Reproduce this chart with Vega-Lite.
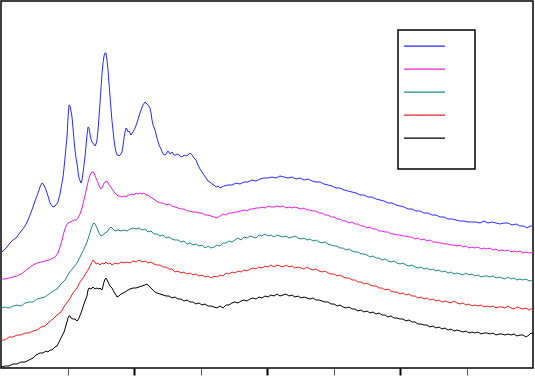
{
"$schema":"https://vega.github.io/schema/vega-lite/v6.json",
"width":532,"height":367,"autosize":"none",
"padding":{"left":1,"top":1,"right":2,"bottom":8},
"background":"white",
"config":{"view":{"stroke":"black","strokeWidth":1.5},"legend":{"strokeWidth":1.5}},
"datasets":{
"a":[{"x":1,"y":115},{"x":4,"y":118},{"x":7,"y":121},{"x":10,"y":125},{"x":13,"y":128},{"x":16,"y":130},{"x":19,"y":134},{"x":22,"y":138},{"x":25,"y":142},{"x":28,"y":148},{"x":30,"y":153},{"x":33,"y":161},{"x":35,"y":167},{"x":38,"y":175},{"x":40,"y":181},{"x":42,"y":185},{"x":44,"y":183},{"x":46,"y":178},{"x":48,"y":172},{"x":50,"y":165},{"x":52,"y":162},{"x":53,"y":161},{"x":55,"y":162},{"x":58,"y":166},{"x":60,"y":174},{"x":62,"y":185},{"x":63,"y":191},{"x":64,"y":200},{"x":65,"y":210},{"x":66,"y":221},{"x":67,"y":231},{"x":68,"y":250},{"x":69,"y":263},{"x":70,"y":262},{"x":71,"y":257},{"x":72,"y":251},{"x":73,"y":240},{"x":74,"y":228},{"x":75,"y":218},{"x":76,"y":210},{"x":77,"y":205},{"x":78,"y":196},{"x":79,"y":190},{"x":81,"y":185},{"x":82,"y":188},{"x":83,"y":195},{"x":84,"y":203},{"x":85,"y":211},{"x":86,"y":222},{"x":87,"y":233},{"x":88,"y":241},{"x":89,"y":240},{"x":90,"y":234},{"x":91,"y":229},{"x":92,"y":226},{"x":93,"y":225},{"x":95,"y":222},{"x":96,"y":224},{"x":97,"y":228},{"x":98,"y":238},{"x":99,"y":251},{"x":100,"y":265},{"x":101,"y":280},{"x":102,"y":294},{"x":103,"y":305},{"x":104,"y":312},{"x":105,"y":315},{"x":106,"y":315},{"x":107,"y":308},{"x":108,"y":298},{"x":109,"y":285},{"x":110,"y":272},{"x":111,"y":259},{"x":112,"y":247},{"x":113,"y":238},{"x":114,"y":228},{"x":115,"y":221},{"x":116,"y":216},{"x":117,"y":213},{"x":118,"y":213},{"x":119,"y":212},{"x":120,"y":213},{"x":121,"y":214},{"x":122,"y":216},{"x":123,"y":222},{"x":124,"y":230},{"x":125,"y":236},{"x":126,"y":240},{"x":127,"y":239},{"x":128,"y":236},{"x":129,"y":237},{"x":130,"y":235},{"x":131,"y":233},{"x":132,"y":235},{"x":133,"y":236},{"x":134,"y":238},{"x":135,"y":240},{"x":137,"y":245},{"x":139,"y":252},{"x":141,"y":258},{"x":143,"y":263},{"x":145,"y":266},{"x":146,"y":265},{"x":147,"y":264},{"x":148,"y":263},{"x":150,"y":260},{"x":151,"y":255},{"x":152,"y":248},{"x":153,"y":243},{"x":155,"y":238},{"x":157,"y":230},{"x":159,"y":223},{"x":161,"y":219},{"x":163,"y":214},{"x":165,"y":213},{"x":166,"y":214},{"x":168,"y":217},{"x":170,"y":214},{"x":172,"y":216},{"x":174,"y":213},{"x":176,"y":213},{"x":178,"y":214},{"x":180,"y":212},{"x":182,"y":211},{"x":184,"y":213},{"x":186,"y":212},{"x":188,"y":213},{"x":190,"y":215},{"x":192,"y":213},{"x":194,"y":210},{"x":196,"y":208},{"x":198,"y":203},{"x":200,"y":199},{"x":202,"y":196},{"x":204,"y":193},{"x":206,"y":190},{"x":208,"y":187},{"x":210,"y":186},{"x":212,"y":184},{"x":214,"y":183},{"x":216,"y":181},{"x":218,"y":182},{"x":220,"y":180},{"x":224,"y":182},{"x":228,"y":183},{"x":232,"y":183},{"x":236,"y":185},{"x":240,"y":184},{"x":244,"y":186},{"x":248,"y":186},{"x":252,"y":188},{"x":256,"y":187},{"x":260,"y":189},{"x":264,"y":190},{"x":268,"y":190},{"x":272,"y":191},{"x":276,"y":190},{"x":280,"y":192},{"x":284,"y":191},{"x":288,"y":190},{"x":292,"y":191},{"x":296,"y":189},{"x":300,"y":190},{"x":304,"y":188},{"x":308,"y":189},{"x":312,"y":187},{"x":316,"y":186},{"x":320,"y":186},{"x":324,"y":184},{"x":328,"y":183},{"x":332,"y":182},{"x":336,"y":180},{"x":340,"y":180},{"x":344,"y":178},{"x":348,"y":177},{"x":352,"y":176},{"x":356,"y":175},{"x":360,"y":173},{"x":364,"y":173},{"x":368,"y":171},{"x":372,"y":171},{"x":376,"y":169},{"x":380,"y":168},{"x":384,"y":167},{"x":388,"y":165},{"x":392,"y":165},{"x":396,"y":163},{"x":400,"y":162},{"x":404,"y":161},{"x":408,"y":159},{"x":412,"y":159},{"x":416,"y":157},{"x":420,"y":157},{"x":424,"y":155},{"x":428,"y":155},{"x":432,"y":153},{"x":436,"y":153},{"x":440,"y":151},{"x":444,"y":151},{"x":448,"y":149},{"x":452,"y":149},{"x":456,"y":148},{"x":460,"y":147},{"x":464,"y":147},{"x":468,"y":146},{"x":472,"y":146},{"x":476,"y":146},{"x":480,"y":145},{"x":484,"y":147},{"x":488,"y":145},{"x":492,"y":146},{"x":496,"y":145},{"x":500,"y":144},{"x":504,"y":145},{"x":508,"y":145},{"x":512,"y":143},{"x":516,"y":144},{"x":520,"y":142},{"x":524,"y":142},{"x":527,"y":140},{"x":530,"y":142},{"x":533,"y":142}],
"b":[{"x":1,"y":89},{"x":5,"y":89},{"x":9,"y":90},{"x":13,"y":91},{"x":17,"y":92},{"x":21,"y":94},{"x":25,"y":97},{"x":29,"y":100},{"x":33,"y":103},{"x":37,"y":105},{"x":41,"y":106},{"x":45,"y":107},{"x":49,"y":108},{"x":53,"y":110},{"x":56,"y":112},{"x":58,"y":115},{"x":60,"y":121},{"x":62,"y":128},{"x":64,"y":136},{"x":66,"y":142},{"x":68,"y":145},{"x":70,"y":146},{"x":72,"y":147},{"x":74,"y":148},{"x":76,"y":148},{"x":78,"y":150},{"x":80,"y":154},{"x":82,"y":160},{"x":84,"y":168},{"x":86,"y":177},{"x":88,"y":186},{"x":90,"y":193},{"x":92,"y":196},{"x":93,"y":196},{"x":94,"y":195},{"x":96,"y":190},{"x":98,"y":185},{"x":100,"y":180},{"x":101,"y":179},{"x":102,"y":180},{"x":104,"y":185},{"x":105,"y":186},{"x":107,"y":187},{"x":108,"y":185},{"x":110,"y":182},{"x":112,"y":179},{"x":114,"y":176},{"x":116,"y":174},{"x":118,"y":172},{"x":120,"y":172},{"x":122,"y":171},{"x":124,"y":172},{"x":126,"y":171},{"x":128,"y":173},{"x":130,"y":173},{"x":132,"y":174},{"x":134,"y":173},{"x":136,"y":175},{"x":138,"y":174},{"x":140,"y":175},{"x":142,"y":174},{"x":144,"y":175},{"x":146,"y":173},{"x":148,"y":173},{"x":150,"y":171},{"x":152,"y":170},{"x":154,"y":169},{"x":156,"y":167},{"x":158,"y":166},{"x":160,"y":165},{"x":163,"y":165},{"x":166,"y":163},{"x":169,"y":164},{"x":172,"y":162},{"x":175,"y":161},{"x":178,"y":160},{"x":181,"y":159},{"x":184,"y":159},{"x":187,"y":157},{"x":190,"y":157},{"x":193,"y":156},{"x":196,"y":156},{"x":199,"y":155},{"x":202,"y":155},{"x":205,"y":153},{"x":208,"y":153},{"x":211,"y":152},{"x":214,"y":151},{"x":217,"y":150},{"x":220,"y":152},{"x":223,"y":154},{"x":226,"y":153},{"x":229,"y":155},{"x":232,"y":155},{"x":235,"y":156},{"x":238,"y":156},{"x":241,"y":157},{"x":244,"y":158},{"x":247,"y":157},{"x":250,"y":159},{"x":253,"y":159},{"x":256,"y":160},{"x":259,"y":160},{"x":262,"y":161},{"x":265,"y":160},{"x":268,"y":162},{"x":271,"y":161},{"x":274,"y":161},{"x":277,"y":162},{"x":280,"y":161},{"x":283,"y":162},{"x":286,"y":160},{"x":289,"y":161},{"x":292,"y":160},{"x":295,"y":161},{"x":298,"y":160},{"x":301,"y":159},{"x":304,"y":160},{"x":307,"y":158},{"x":310,"y":158},{"x":313,"y":157},{"x":316,"y":157},{"x":319,"y":155},{"x":322,"y":155},{"x":325,"y":153},{"x":328,"y":153},{"x":331,"y":151},{"x":334,"y":151},{"x":337,"y":149},{"x":340,"y":149},{"x":343,"y":147},{"x":346,"y":147},{"x":349,"y":145},{"x":352,"y":146},{"x":355,"y":144},{"x":358,"y":144},{"x":361,"y":142},{"x":364,"y":142},{"x":367,"y":140},{"x":370,"y":141},{"x":373,"y":139},{"x":376,"y":139},{"x":379,"y":137},{"x":382,"y":137},{"x":385,"y":136},{"x":388,"y":136},{"x":391,"y":134},{"x":394,"y":134},{"x":397,"y":133},{"x":400,"y":133},{"x":403,"y":132},{"x":406,"y":132},{"x":409,"y":131},{"x":412,"y":131},{"x":415,"y":129},{"x":418,"y":130},{"x":421,"y":128},{"x":424,"y":129},{"x":427,"y":127},{"x":430,"y":128},{"x":433,"y":126},{"x":436,"y":126},{"x":439,"y":125},{"x":442,"y":125},{"x":445,"y":124},{"x":448,"y":124},{"x":451,"y":123},{"x":454,"y":123},{"x":457,"y":122},{"x":460,"y":123},{"x":463,"y":121},{"x":466,"y":122},{"x":469,"y":120},{"x":472,"y":121},{"x":475,"y":120},{"x":478,"y":121},{"x":481,"y":119},{"x":484,"y":120},{"x":487,"y":119},{"x":490,"y":120},{"x":493,"y":118},{"x":496,"y":119},{"x":499,"y":117},{"x":502,"y":118},{"x":505,"y":117},{"x":508,"y":118},{"x":511,"y":116},{"x":514,"y":117},{"x":517,"y":116},{"x":520,"y":117},{"x":523,"y":115},{"x":526,"y":116},{"x":529,"y":115},{"x":533,"y":116}],
"c":[{"x":1,"y":60},{"x":5,"y":61},{"x":9,"y":60},{"x":13,"y":62},{"x":17,"y":63},{"x":21,"y":62},{"x":25,"y":65},{"x":29,"y":66},{"x":33,"y":66},{"x":37,"y":69},{"x":41,"y":70},{"x":45,"y":71},{"x":49,"y":74},{"x":53,"y":77},{"x":57,"y":79},{"x":61,"y":84},{"x":65,"y":88},{"x":69,"y":95},{"x":73,"y":100},{"x":77,"y":105},{"x":81,"y":113},{"x":84,"y":119},{"x":87,"y":126},{"x":89,"y":132},{"x":91,"y":139},{"x":93,"y":144},{"x":94,"y":145},{"x":95,"y":144},{"x":97,"y":140},{"x":99,"y":135},{"x":101,"y":132},{"x":103,"y":133},{"x":105,"y":135},{"x":107,"y":136},{"x":109,"y":139},{"x":111,"y":141},{"x":113,"y":139},{"x":115,"y":137},{"x":118,"y":138},{"x":121,"y":137},{"x":124,"y":138},{"x":127,"y":137},{"x":130,"y":139},{"x":133,"y":140},{"x":136,"y":139},{"x":139,"y":140},{"x":142,"y":138},{"x":145,"y":139},{"x":148,"y":136},{"x":151,"y":137},{"x":154,"y":134},{"x":157,"y":134},{"x":160,"y":132},{"x":163,"y":133},{"x":166,"y":130},{"x":169,"y":131},{"x":172,"y":129},{"x":175,"y":128},{"x":178,"y":128},{"x":181,"y":126},{"x":184,"y":127},{"x":187,"y":124},{"x":190,"y":125},{"x":193,"y":123},{"x":196,"y":124},{"x":199,"y":122},{"x":202,"y":123},{"x":205,"y":120},{"x":208,"y":122},{"x":211,"y":120},{"x":214,"y":121},{"x":217,"y":123},{"x":220,"y":122},{"x":223,"y":125},{"x":226,"y":125},{"x":229,"y":127},{"x":232,"y":126},{"x":235,"y":128},{"x":238,"y":130},{"x":241,"y":128},{"x":244,"y":131},{"x":247,"y":130},{"x":250,"y":132},{"x":253,"y":131},{"x":256,"y":130},{"x":259,"y":133},{"x":262,"y":132},{"x":265,"y":134},{"x":268,"y":132},{"x":271,"y":133},{"x":274,"y":131},{"x":277,"y":133},{"x":280,"y":132},{"x":283,"y":131},{"x":286,"y":132},{"x":289,"y":130},{"x":292,"y":131},{"x":295,"y":132},{"x":298,"y":130},{"x":301,"y":129},{"x":304,"y":130},{"x":307,"y":128},{"x":310,"y":129},{"x":313,"y":127},{"x":316,"y":128},{"x":319,"y":126},{"x":322,"y":125},{"x":325,"y":126},{"x":328,"y":124},{"x":331,"y":123},{"x":334,"y":122},{"x":337,"y":122},{"x":340,"y":120},{"x":343,"y":120},{"x":346,"y":118},{"x":349,"y":119},{"x":352,"y":117},{"x":355,"y":116},{"x":358,"y":116},{"x":361,"y":114},{"x":364,"y":114},{"x":367,"y":113},{"x":370,"y":111},{"x":373,"y":112},{"x":376,"y":110},{"x":379,"y":110},{"x":382,"y":108},{"x":385,"y":109},{"x":388,"y":107},{"x":391,"y":106},{"x":394,"y":107},{"x":397,"y":105},{"x":400,"y":104},{"x":403,"y":105},{"x":406,"y":103},{"x":409,"y":102},{"x":412,"y":103},{"x":415,"y":101},{"x":418,"y":100},{"x":421,"y":101},{"x":424,"y":99},{"x":427,"y":100},{"x":430,"y":98},{"x":433,"y":99},{"x":436,"y":97},{"x":439,"y":98},{"x":442,"y":96},{"x":445,"y":97},{"x":448,"y":95},{"x":451,"y":96},{"x":454,"y":94},{"x":457,"y":95},{"x":460,"y":94},{"x":463,"y":93},{"x":466,"y":95},{"x":469,"y":93},{"x":472,"y":94},{"x":475,"y":92},{"x":478,"y":93},{"x":481,"y":91},{"x":484,"y":92},{"x":487,"y":92},{"x":490,"y":91},{"x":493,"y":92},{"x":496,"y":90},{"x":499,"y":91},{"x":502,"y":90},{"x":505,"y":89},{"x":508,"y":91},{"x":511,"y":89},{"x":514,"y":90},{"x":517,"y":88},{"x":520,"y":89},{"x":523,"y":88},{"x":526,"y":89},{"x":529,"y":87},{"x":533,"y":88}],
"d":[{"x":1,"y":28},{"x":5,"y":28},{"x":9,"y":31},{"x":13,"y":31},{"x":17,"y":33},{"x":21,"y":33},{"x":25,"y":35},{"x":29,"y":35},{"x":33,"y":37},{"x":37,"y":38},{"x":41,"y":41},{"x":45,"y":42},{"x":49,"y":46},{"x":53,"y":49},{"x":57,"y":53},{"x":61,"y":56},{"x":65,"y":63},{"x":69,"y":68},{"x":73,"y":75},{"x":77,"y":80},{"x":80,"y":86},{"x":83,"y":90},{"x":86,"y":95},{"x":88,"y":98},{"x":90,"y":102},{"x":92,"y":106},{"x":93,"y":108},{"x":94,"y":107},{"x":96,"y":104},{"x":98,"y":105},{"x":100,"y":103},{"x":102,"y":105},{"x":104,"y":104},{"x":106,"y":106},{"x":108,"y":104},{"x":110,"y":105},{"x":112,"y":103},{"x":115,"y":105},{"x":118,"y":104},{"x":121,"y":106},{"x":124,"y":105},{"x":127,"y":106},{"x":130,"y":105},{"x":133,"y":107},{"x":136,"y":106},{"x":139,"y":108},{"x":142,"y":106},{"x":145,"y":107},{"x":148,"y":105},{"x":151,"y":106},{"x":154,"y":104},{"x":157,"y":103},{"x":160,"y":103},{"x":163,"y":101},{"x":166,"y":101},{"x":169,"y":99},{"x":172,"y":99},{"x":175,"y":96},{"x":178,"y":97},{"x":181,"y":95},{"x":184,"y":96},{"x":187,"y":94},{"x":190,"y":95},{"x":193,"y":93},{"x":196,"y":94},{"x":199,"y":92},{"x":202,"y":93},{"x":205,"y":91},{"x":208,"y":92},{"x":211,"y":90},{"x":214,"y":92},{"x":217,"y":91},{"x":220,"y":93},{"x":223,"y":92},{"x":226,"y":95},{"x":229,"y":94},{"x":232,"y":96},{"x":235,"y":95},{"x":238,"y":97},{"x":241,"y":96},{"x":244,"y":98},{"x":247,"y":97},{"x":250,"y":99},{"x":253,"y":100},{"x":256,"y":99},{"x":259,"y":101},{"x":262,"y":100},{"x":265,"y":102},{"x":268,"y":101},{"x":271,"y":103},{"x":274,"y":101},{"x":277,"y":103},{"x":280,"y":102},{"x":283,"y":101},{"x":286,"y":103},{"x":289,"y":101},{"x":292,"y":102},{"x":295,"y":100},{"x":298,"y":101},{"x":301,"y":100},{"x":304,"y":99},{"x":307,"y":101},{"x":310,"y":99},{"x":313,"y":98},{"x":316,"y":99},{"x":319,"y":97},{"x":322,"y":96},{"x":325,"y":97},{"x":328,"y":95},{"x":331,"y":94},{"x":334,"y":94},{"x":337,"y":92},{"x":340,"y":93},{"x":343,"y":91},{"x":346,"y":90},{"x":349,"y":90},{"x":352,"y":88},{"x":355,"y":88},{"x":358,"y":86},{"x":361,"y":86},{"x":364,"y":84},{"x":367,"y":85},{"x":370,"y":83},{"x":373,"y":82},{"x":376,"y":82},{"x":379,"y":80},{"x":382,"y":80},{"x":385,"y":78},{"x":388,"y":79},{"x":391,"y":77},{"x":394,"y":76},{"x":397,"y":76},{"x":400,"y":74},{"x":403,"y":75},{"x":406,"y":73},{"x":409,"y":74},{"x":412,"y":72},{"x":415,"y":72},{"x":418,"y":70},{"x":421,"y":71},{"x":424,"y":69},{"x":427,"y":70},{"x":430,"y":68},{"x":433,"y":69},{"x":436,"y":67},{"x":439,"y":68},{"x":442,"y":66},{"x":445,"y":67},{"x":448,"y":66},{"x":451,"y":65},{"x":454,"y":67},{"x":457,"y":65},{"x":460,"y":64},{"x":463,"y":65},{"x":466,"y":63},{"x":469,"y":64},{"x":472,"y":62},{"x":475,"y":63},{"x":478,"y":62},{"x":481,"y":63},{"x":484,"y":61},{"x":487,"y":62},{"x":490,"y":61},{"x":493,"y":62},{"x":496,"y":60},{"x":499,"y":61},{"x":502,"y":61},{"x":505,"y":60},{"x":508,"y":62},{"x":511,"y":60},{"x":514,"y":59},{"x":517,"y":61},{"x":520,"y":60},{"x":523,"y":59},{"x":526,"y":60},{"x":529,"y":58},{"x":533,"y":60}],
"e":[{"x":1,"y":1},{"x":5,"y":2},{"x":9,"y":2},{"x":13,"y":4},{"x":17,"y":4},{"x":21,"y":6},{"x":25,"y":6},{"x":29,"y":8},{"x":33,"y":10},{"x":36,"y":13},{"x":38,"y":14},{"x":40,"y":15},{"x":43,"y":15},{"x":46,"y":17},{"x":48,"y":16},{"x":50,"y":18},{"x":52,"y":18},{"x":55,"y":21},{"x":57,"y":22},{"x":59,"y":26},{"x":60,"y":28},{"x":62,"y":32},{"x":64,"y":36},{"x":65,"y":39},{"x":66,"y":43},{"x":67,"y":46},{"x":68,"y":50},{"x":69,"y":52},{"x":70,"y":52},{"x":71,"y":50},{"x":73,"y":49},{"x":75,"y":49},{"x":77,"y":47},{"x":78,"y":48},{"x":79,"y":50},{"x":81,"y":55},{"x":83,"y":61},{"x":85,"y":67},{"x":87,"y":72},{"x":88,"y":78},{"x":89,"y":80},{"x":91,"y":79},{"x":93,"y":81},{"x":95,"y":79},{"x":97,"y":80},{"x":99,"y":79},{"x":100,"y":80},{"x":102,"y":78},{"x":103,"y":82},{"x":104,"y":86},{"x":105,"y":89},{"x":106,"y":90},{"x":107,"y":88},{"x":108,"y":86},{"x":110,"y":82},{"x":112,"y":80},{"x":114,"y":76},{"x":116,"y":73},{"x":117,"y":71},{"x":119,"y":72},{"x":121,"y":74},{"x":123,"y":75},{"x":125,"y":76},{"x":128,"y":78},{"x":130,"y":79},{"x":133,"y":80},{"x":136,"y":80},{"x":139,"y":81},{"x":142,"y":82},{"x":145,"y":83},{"x":147,"y":84},{"x":149,"y":82},{"x":150,"y":81},{"x":152,"y":79},{"x":155,"y":76},{"x":157,"y":75},{"x":160,"y":74},{"x":163,"y":73},{"x":166,"y":72},{"x":169,"y":72},{"x":172,"y":70},{"x":175,"y":71},{"x":178,"y":69},{"x":181,"y":69},{"x":184,"y":67},{"x":187,"y":68},{"x":190,"y":66},{"x":193,"y":66},{"x":196,"y":64},{"x":199,"y":65},{"x":202,"y":63},{"x":205,"y":64},{"x":208,"y":62},{"x":211,"y":62},{"x":214,"y":61},{"x":217,"y":60},{"x":220,"y":62},{"x":223,"y":60},{"x":226,"y":63},{"x":229,"y":63},{"x":232,"y":65},{"x":235,"y":66},{"x":238,"y":65},{"x":241,"y":67},{"x":244,"y":68},{"x":247,"y":67},{"x":250,"y":69},{"x":253,"y":70},{"x":256,"y":69},{"x":259,"y":71},{"x":262,"y":70},{"x":265,"y":72},{"x":268,"y":71},{"x":271,"y":73},{"x":274,"y":72},{"x":277,"y":74},{"x":280,"y":72},{"x":283,"y":73},{"x":286,"y":74},{"x":289,"y":72},{"x":292,"y":73},{"x":295,"y":71},{"x":298,"y":72},{"x":301,"y":70},{"x":304,"y":71},{"x":307,"y":70},{"x":310,"y":69},{"x":313,"y":70},{"x":316,"y":68},{"x":319,"y":68},{"x":322,"y":67},{"x":325,"y":66},{"x":328,"y":66},{"x":331,"y":64},{"x":334,"y":64},{"x":337,"y":62},{"x":340,"y":63},{"x":343,"y":61},{"x":346,"y":60},{"x":349,"y":61},{"x":352,"y":59},{"x":355,"y":59},{"x":358,"y":57},{"x":361,"y":58},{"x":364,"y":56},{"x":367,"y":57},{"x":370,"y":55},{"x":373,"y":56},{"x":376,"y":54},{"x":379,"y":55},{"x":382,"y":53},{"x":385,"y":53},{"x":388,"y":51},{"x":391,"y":52},{"x":394,"y":50},{"x":397,"y":50},{"x":400,"y":49},{"x":403,"y":49},{"x":406,"y":47},{"x":409,"y":48},{"x":412,"y":46},{"x":415,"y":46},{"x":418,"y":44},{"x":421,"y":44},{"x":424,"y":43},{"x":427,"y":43},{"x":430,"y":41},{"x":433,"y":42},{"x":436,"y":40},{"x":439,"y":41},{"x":442,"y":39},{"x":445,"y":40},{"x":448,"y":38},{"x":451,"y":39},{"x":454,"y":37},{"x":457,"y":38},{"x":460,"y":37},{"x":463,"y":36},{"x":466,"y":37},{"x":469,"y":35},{"x":472,"y":36},{"x":475,"y":35},{"x":478,"y":36},{"x":481,"y":34},{"x":484,"y":35},{"x":487,"y":35},{"x":490,"y":34},{"x":493,"y":35},{"x":496,"y":33},{"x":499,"y":34},{"x":502,"y":34},{"x":505,"y":33},{"x":508,"y":34},{"x":511,"y":33},{"x":514,"y":34},{"x":517,"y":32},{"x":520,"y":33},{"x":523,"y":33},{"x":526,"y":31},{"x":529,"y":33},{"x":531,"y":35},{"x":533,"y":34}]
},
"encoding":{
"x":{"field":"x","type":"quantitative","scale":{"domain":[1,533],"nice":false,"zero":false},
"axis":{"title":null,"labels":false,"domain":false,"grid":false,"values":[67.5,134,200.5,267,333.5,400,466.5],"tickSize":7,
"tickColor":{"condition":{"test":"datum.value==134||datum.value==267||datum.value==400","value":"black"},"value":"#555555"},
"tickWidth":{"condition":{"test":"datum.value==134||datum.value==267||datum.value==400","value":2},"value":1}}},
"y":{"field":"y","type":"quantitative","scale":{"domain":[0,367],"nice":false,"zero":false},"axis":null},
"color":{"type":"nominal","scale":{"domain":["a","b","c","d","e"],"range":["#2a2aff","#e020e0","#1f8a8a","#ea2222","#000000"]},
"legend":{"orient":"none","legendX":397,"legendY":29,"title":" ","titleOrient":"bottom","titleFontSize":12,"titlePadding":4,"padding":5,"strokeColor":"black","fillColor":"white","symbolType":"stroke","symbolSize":1681,"symbolStrokeWidth":1.2,"clipHeight":22.3,"rowPadding":0,"labelExpr":"''","labelOffset":24}}
},
"layer":[
{"data":{"name":"a"},"mark":{"type":"line","strokeWidth":1},"encoding":{"color":{"datum":"a"}}},
{"data":{"name":"b"},"mark":{"type":"line","strokeWidth":1},"encoding":{"color":{"datum":"b"}}},
{"data":{"name":"c"},"mark":{"type":"line","strokeWidth":1},"encoding":{"color":{"datum":"c"}}},
{"data":{"name":"d"},"mark":{"type":"line","strokeWidth":1},"encoding":{"color":{"datum":"d"}}},
{"data":{"name":"e"},"mark":{"type":"line","strokeWidth":1},"encoding":{"color":{"datum":"e"}}}
]
}
